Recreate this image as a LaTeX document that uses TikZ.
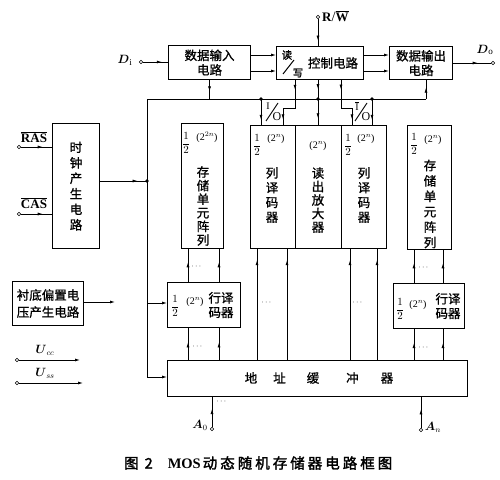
\documentclass[tikz,border=0pt]{standalone}
\usepackage{amsmath}
\usepackage{fontspec}
\setmainfont{Liberation Serif}
\newfontfamily\cjk{Noto Sans CJK SC}[FakeBold=1]
\newfontfamily\cjkb{Noto Sans CJK SC}[FakeBold=2]
\usetikzlibrary{arrows.meta,decorations.markings}
\begin{document}
\begin{tikzpicture}[x=1pt,y=-1pt,
 box/.style={draw,line width=1.1pt,inner sep=0pt,anchor=north west,font=\cjk\fontsize{12.5}{14.5}\selectfont,align=center},
 ln/.style={line width=0.75pt},
 tip/.style={-{Latex[length=5pt,width=3pt]}},
 midarr/.style={postaction={decorate},decoration={markings,mark=at position #1 with {\arrow{Latex[length=5pt,width=3pt]}}}},
 twoarr/.style 2 args={postaction={decorate},decoration={markings,mark=at position #1 with {\arrow{Latex[length=5pt,width=3pt]}},mark=at position #2 with {\arrow{Latex[length=5pt,width=3pt]}}}},
 dot/.style={circle,fill,inner sep=0pt,minimum size=3.6pt},
 term/.style={circle,draw,fill=white,inner sep=0pt,minimum size=3.6pt,line width=0.6pt},
 zh/.style={font=\cjk\fontsize{12.5}{14.5}\selectfont,align=center,inner sep=0pt},
 vt/.style={font=\cjk\fontsize{12.5}{#1}\selectfont,align=center,inner sep=0pt},
 frac/.style={font=\fontsize{10.5}{10.5}\selectfont,inner sep=0pt},
 pw/.style={font=\fontsize{10}{10}\selectfont,inner sep=0pt},
 dd/.style={font=\fontsize{8}{8}\selectfont,inner sep=0pt},
 lab/.style={font=\fontsize{12}{12}\selectfont,inner sep=0pt}
]
\fill[white] (0,0) rectangle (500,479);
\useasboundingbox (0,0) rectangle (500,479);

% ---------- boxes ----------
\node[box,minimum width=82pt,minimum height=34pt] (din) at (168,45) {数据输入\\电路};
\node[box,minimum width=87pt,minimum height=33pt] (ctl) at (276,46) {};
\node[box,minimum width=63pt,minimum height=33pt] (dout) at (389,46) {数据输出\\电路};
\node[box,minimum width=47pt,minimum height=125pt,font=\cjk\fontsize{12.5}{15.5}\selectfont] (clk) at (52,123) {时\\钟\\产\\生\\电\\路};
\node[box,minimum width=42pt,minimum height=125pt] (arrL) at (181,123) {};
\node[box,minimum width=45pt,minimum height=123pt] (colL) at (250,125) {};
\node[box,minimum width=46pt,minimum height=123pt] (amp) at (295,125) {};
\node[box,minimum width=45pt,minimum height=123pt] (colR) at (341,125) {};
\node[box,minimum width=44pt,minimum height=124pt] (arrR) at (407,125) {};
\node[box,minimum width=73pt,minimum height=45pt] (rdL) at (167,282) {};
\node[box,minimum width=71pt,minimum height=45pt] (rdR) at (393,283) {};
\node[box,minimum width=71pt,minimum height=44pt,font=\cjk\fontsize{12.5}{17}\selectfont] (bias) at (12,281) {衬底偏置电\\压产生电路};
\node[box,minimum width=300pt,minimum height=36pt] (abuf) at (167,360) {};

% ---------- texts inside boxes ----------
\node[zh] at (333,63) {控制电路};
\node[zh,font=\cjk\fontsize{10.5}{10.5}\selectfont] at (287,55) {读};
\draw[line width=1pt] (283,74) -- (294,60);
\node[zh,font=\cjk\fontsize{10.5}{10.5}\selectfont] at (298,73) {写};

\node[frac] at (186,143) {$\dfrac{1}{2}$};
\node[pw] at (207,137) {(2$^{2n}$)};
\node[vt=13.6] at (203,206) {存\\储\\单\\元\\阵\\列};

\node[frac] at (257,145) {$\dfrac{1}{2}$};
\node[pw] at (276,139) {(2$^{n}$)};
\node[vt=14.7] at (272,195) {列\\译\\码\\器};

\node[pw] at (318,146) {(2$^{n}$)};
\node[vt=13.5] at (318,200) {读\\出\\放\\大\\器};

\node[frac] at (348,145) {$\dfrac{1}{2}$};
\node[pw] at (366,139) {(2$^{n}$)};
\node[vt=14.7] at (364,195) {列\\译\\码\\器};

\node[frac] at (414,144) {$\dfrac{1}{2}$};
\node[pw] at (433,140) {(2$^{n}$)};
\node[vt=15.4] at (430,204) {存\\储\\单\\元\\阵\\列};

\node[frac] at (175,306) {$\dfrac{1}{2}$};
\node[pw] at (195,302) {(2$^{n}$)};
\node[zh] at (221,305) {行译\\码器};

\node[frac] at (400,309) {$\dfrac{1}{2}$};
\node[pw] at (418,305) {(2$^{n}$)};
\node[zh] at (448,306) {行译\\码器};

\node[zh] at (319,378) {地\hspace{16pt}址\hspace{21pt}缓\hspace{27pt}冲\hspace{22pt}器};

% ---------- inputs / outputs ----------
\node[term] (di) at (141,62) {};
\node[lab,font=\fontsize{13}{13}\selectfont] at (125,60) {$\boldsymbol{D}_{\mathrm{i}}$};
\draw[ln,midarr=0.75] (di) -- (din.west |- di);

\coordinate (ya) at (0,55);
\coordinate (yb) at (0,71);
\draw[ln,tip] (din.east |- ya) -- (ctl.west |- ya);
\draw[ln,tip] (din.east |- yb) -- (ctl.west |- yb);
\draw[ln,tip] (ctl.east |- ya) -- (dout.west |- ya);
\draw[ln,tip] (ctl.east |- yb) -- (dout.west |- yb);

\node[term] (do) at (493,63) {};
\node[lab,font=\fontsize{13}{13}\selectfont] at (485,50) {$\boldsymbol{D}_{\mathrm{o}}$};
\draw[ln,midarr=0.65] (dout.east |- do) -- (do);

\node[term] (rw) at (318,17) {};
\node[lab,anchor=west,font=\fontsize{13}{13}\selectfont] at (322,16) {\textbf{R}{\Large/}$\overline{\mbox{\textbf{W}}}$};
\draw[ln,midarr=0.8] (rw) -- (rw |- ctl.north);

% ---------- bus ----------
\coordinate (bL) at (147,99);
\coordinate (bR) at (426,99);
\draw[ln] (bL) -- (bR);
\draw[ln,midarr=0.6] (bR) -- (bR |- dout.south);
\draw[ln,midarr=0.6] (din.south) -- (din.south |- bL);

\coordinate (bB) at (147,377);
\draw[ln,tip] (bL) -- (bB) -- (abuf.west |- bB);
\coordinate (bC) at (147,181);
\draw[ln,midarr=0.8] (clk.east |- bC) -- (bC);
\node[dot] at (bC) {};
\coordinate (bD) at (147,303);
\draw[ln,tip] (bD) -- (rdL.west |- bD);

% control to column blocks
\coordinate (c1) at (295,108);
\coordinate (c2) at (283,108);
\draw[ln,twoarr={0.17}{0.9}] (ctl.south -| c1) -- (c1) -- (c2) -- (c2 |- colL.north);
\coordinate (d2) at (318,99);
\draw[ln,twoarr={0.2}{0.85}] (ctl.south -| d2) -- (d2 |- amp.north);
\coordinate (c3) at (341,108);
\coordinate (c4) at (352,108);
\draw[ln,twoarr={0.17}{0.9}] (ctl.south -| c3) -- (c3) -- (c4) -- (c4 |- colR.north);
\coordinate (d1) at (261,99);
\coordinate (d3) at (372,99);
\draw[ln,midarr=0.8] (d1) -- (d1 |- colL.north);
\draw[ln,midarr=0.8] (d3) -- (d3 |- colR.north);
\node[dot] at (d1) {};
\node[dot] at (d2) {};
\node[dot] at (d3) {};

% I/O labels
\node[pw] at (268,106) {I};
\draw[line width=0.9pt] (266,121) -- (278,103);
\node[lab,font=\fontsize{12}{12}\selectfont] at (277,117) {O};
\node[pw] at (357,106) {$\overline{\mathrm{I}}$};
\draw[line width=0.9pt] (355,121) -- (367,103);
\node[lab,font=\fontsize{12}{12}\selectfont] at (366,117) {O};

% ---------- array / decoder / buffer lines ----------
\coordinate (xa) at (188,0);
\coordinate (xb) at (219,0);
\draw[ln,midarr=0.6] (rdL.north -| xa) -- (arrL.south -| xa);
\draw[ln,midarr=0.6] (rdL.north -| xb) -- (arrL.south -| xb);
\draw[ln,midarr=0.55] (abuf.north -| xa) -- (rdL.south -| xa);
\draw[ln,midarr=0.55] (abuf.north -| xb) -- (rdL.south -| xb);
\node[dd] at (197,267) {$\cdots$};
\node[dd] at (198,347) {$\cdots$};

\coordinate (xc) at (257,0);
\coordinate (xd) at (287,0);
\coordinate (xe) at (350,0);
\coordinate (xf) at (377,0);
\draw[ln,midarr=0.9] (abuf.north -| xc) -- (colL.south -| xc);
\draw[ln,midarr=0.9] (abuf.north -| xd) -- (colL.south -| xd);
\draw[ln,midarr=0.9] (abuf.north -| xe) -- (colR.south -| xe);
\draw[ln,midarr=0.9] (abuf.north -| xf) -- (colR.south -| xf);
\node[dd] at (267,303) {$\cdots$};
\node[dd] at (358,303) {$\cdots$};

\coordinate (xg) at (414,0);
\coordinate (xh) at (443,0);
\draw[ln,midarr=0.6] (rdR.north -| xg) -- (arrR.south -| xg);
\draw[ln,midarr=0.6] (rdR.north -| xh) -- (arrR.south -| xh);
\draw[ln,midarr=0.55] (abuf.north -| xg) -- (rdR.south -| xg);
\draw[ln,midarr=0.55] (abuf.north -| xh) -- (rdR.south -| xh);
\node[dd] at (424,268) {$\cdots$};
\node[dd] at (424,348) {$\cdots$};

% address inputs
\node[term] (a0) at (212,429) {};
\draw[ln,midarr=0.6] (a0) -- (a0 |- abuf.south);
\node[lab] at (200,425) {$\boldsymbol{A}_{0}$};
\node[dd] at (222,402) {$\cdots$};
\node[term] (an) at (421,430) {};
\draw[ln,midarr=0.6] (an) -- (an |- abuf.south);
\node[lab] at (433,427) {$\boldsymbol{A}_{n}$};

% ---------- left side ----------
\node[term] (ras) at (19,147) {};
\node[lab,font=\fontsize{13}{13}\selectfont] at (34,137) {$\overline{\mbox{\textbf{RAS}}}$};
\draw[ln,midarr=0.7] (ras) -- (clk.west |- ras);
\node[term] (cas) at (19,214) {};
\node[lab,font=\fontsize{13}{13}\selectfont] at (34,203) {$\overline{\mbox{\textbf{CAS}}}$};
\draw[ln,midarr=0.7] (cas) -- (clk.west |- cas);

\coordinate (bz) at (115,302);
\draw[ln,tip] (bias.east |- bz) -- (bz);

\node[term] (ucc) at (17,360) {};
\coordinate (ucce) at (80,360);
\draw[ln,tip] (ucc) -- (ucce);
\node[lab] at (45,350) {$\boldsymbol{U}_{cc}$};
\node[term] (uss) at (17,383) {};
\coordinate (usse) at (83,383);
\draw[ln,tip] (uss) -- (usse);
\node[lab] at (45,373) {$\boldsymbol{U}_{ss}$};

% ---------- caption ----------
\node[font=\cjkb\fontsize{14.5}{14.5}\selectfont,inner sep=0pt,anchor=west] at (124,463) {图\hspace{6pt}2\hspace{15pt}{\fontspec{Liberation Serif}\bfseries MOS}\hspace{2pt}动\hspace{3pt}态\hspace{3pt}随\hspace{3pt}机\hspace{3pt}存\hspace{3pt}储\hspace{3pt}器\hspace{3pt}电\hspace{3pt}路\hspace{3pt}框\hspace{3pt}图};
\end{tikzpicture}
\end{document}
